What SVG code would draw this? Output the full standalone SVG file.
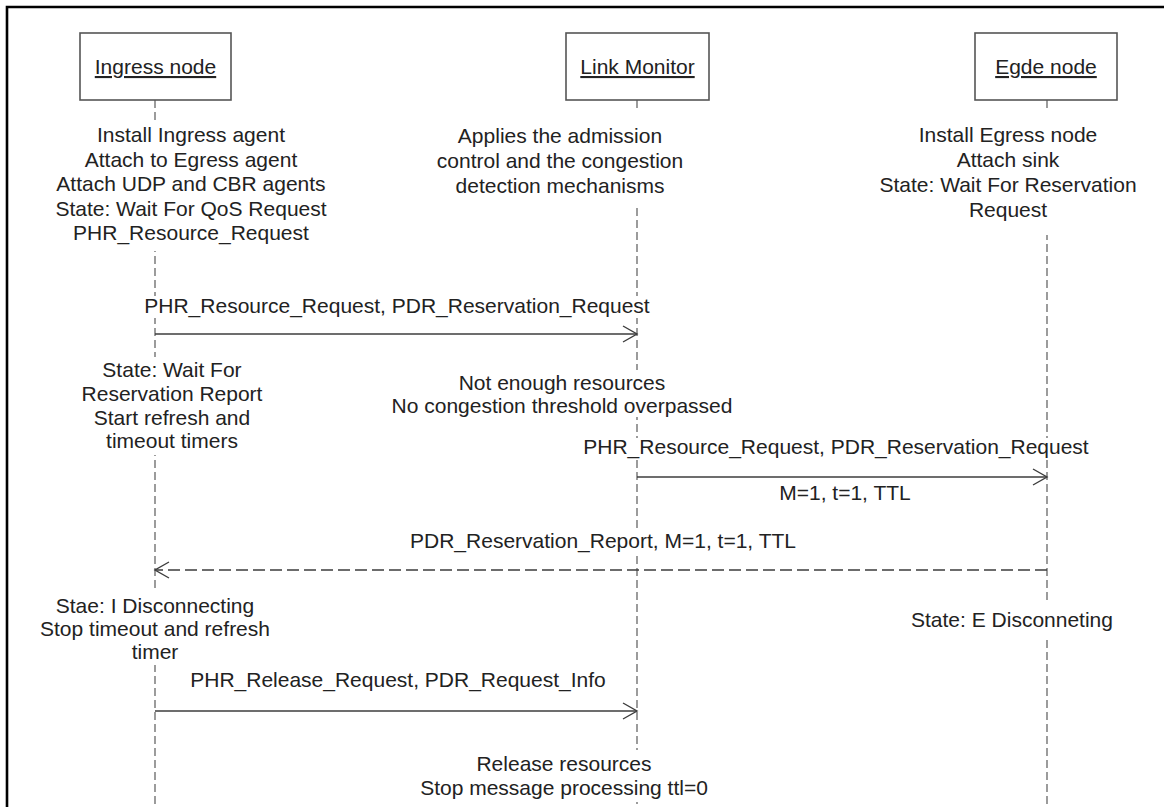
<svg xmlns="http://www.w3.org/2000/svg" width="1166" height="807" viewBox="0 0 1166 807">
  <style>
    text { font-family: "Liberation Sans", Arial, sans-serif; font-size: 21px; fill: #222; text-anchor: middle; }
    .head { text-decoration: underline; }
    .box { fill: #fff; stroke: #555; stroke-width: 1.6; }
    .life { stroke: #5a5a5a; stroke-width: 1.2; stroke-dasharray: 8 4; fill: none; }
    .msg { stroke: #3c3c3c; stroke-width: 1.4; fill: none; }
    .reply { stroke: #3c3c3c; stroke-width: 1.4; fill: none; stroke-dasharray: 12 5; }
    .tip { stroke: #3c3c3c; stroke-width: 1.4; fill: none; stroke-linejoin: miter; }
    .bg { fill: #fff; }
  </style>

  <rect width="1166" height="807" fill="#fff"/>
  <!-- outer frame -->
  <path d="M7,807 V7 H1164" fill="none" stroke="#000" stroke-width="2.6"/>

  <!-- lifelines -->
  <g id="lifelines">
    <line class="life" x1="155" y1="100" x2="155" y2="807"/>
    <line class="life" x1="637" y1="100" x2="637" y2="807"/>
    <line class="life" x1="1047" y1="100" x2="1047" y2="807"/>
  </g>

  <!-- messages -->
  <g id="connectors">
    <line class="msg" x1="155" y1="334" x2="636" y2="334"/>
    <polyline class="tip" points="623,326 637,334 623,342"/>
    <line class="msg" x1="637" y1="477" x2="1046" y2="477"/>
    <polyline class="tip" points="1033,469 1047,477 1033,485"/>
    <line class="reply" x1="1047" y1="570" x2="156" y2="570"/>
    <polyline class="tip" points="169,562 155,570 169,578"/>
    <line class="msg" x1="155" y1="711" x2="636" y2="711"/>
    <polyline class="tip" points="623,703 637,711 623,719"/>
  </g>

  <g id="ingress">
    <rect class="box" x="80" y="33" width="151" height="67"/>
    <text class="head" x="155.5" y="74">Ingress node</text>
    <rect class="bg" x="50" y="120" width="285" height="131"/>
    <text x="191" y="142">Install Ingress agent</text>
    <text x="191" y="166.5">Attach to Egress agent</text>
    <text x="191" y="191">Attach UDP and CBR agents</text>
    <text x="191" y="215.5">State: Wait For QoS Request</text>
    <text x="191" y="240">PHR_Resource_Request</text>
  </g>

  <g id="link-monitor">
    <rect class="box" x="566" y="33" width="143" height="67"/>
    <text class="head" x="637.5" y="74">Link Monitor</text>
    <rect class="bg" x="425" y="110" width="270" height="97"/>
    <text x="560" y="143">Applies the admission</text>
    <text x="560" y="168">control and the congestion</text>
    <text x="560" y="193">detection mechanisms</text>
  </g>

  <g id="egde">
    <rect class="box" x="975" y="33" width="142" height="67"/>
    <text class="head" x="1046" y="74">Egde node</text>
    <rect class="bg" x="870" y="110" width="275" height="125"/>
    <text x="1008" y="142">Install Egress node</text>
    <text x="1008" y="167">Attach sink</text>
    <text x="1008" y="192">State: Wait For Reservation</text>
    <text x="1008" y="217">Request</text>
  </g>

  <g id="msg-reservation-request">
    <rect class="bg" x="143" y="296" width="512" height="22"/>
    <text x="397" y="313">PHR_Resource_Request, PDR_Reservation_Request</text>
  </g>

  <g id="ingress-wait-report">
    <rect class="bg" x="98" y="357" width="150" height="98"/>
    <text x="172" y="377">State: Wait For</text>
    <text x="172" y="401">Reservation Report</text>
    <text x="172" y="425">Start refresh and</text>
    <text x="172" y="448">timeout timers</text>
  </g>

  <g id="monitor-check">
    <rect class="bg" x="382" y="370" width="360" height="47"/>
    <text x="562" y="390">Not enough resources</text>
    <text x="562" y="413">No congestion threshold overpassed</text>
  </g>

  <g id="msg-forward-request">
    <rect class="bg" x="582" y="438" width="512" height="20"/>
    <text x="836" y="454">PHR_Resource_Request, PDR_Reservation_Request</text>
    <text x="845" y="500">M=1, t=1, TTL</text>
  </g>

  <g id="msg-reservation-report">
    <rect class="bg" x="408" y="531" width="392" height="21"/>
    <text x="603" y="548">PDR_Reservation_Report, M=1, t=1, TTL</text>
  </g>

  <g id="ingress-disconnecting">
    <rect class="bg" x="50" y="591" width="210" height="74"/>
    <text x="155" y="613">Stae: I Disconnecting</text>
    <text x="155" y="636">Stop timeout and refresh</text>
    <text x="155" y="659">timer</text>
  </g>

  <g id="egde-disconnecting">
    <rect class="bg" x="905" y="602" width="215" height="34"/>
    <text x="1012" y="627">State: E Disconneting</text>
  </g>

  <g id="msg-release">
    <text x="398" y="687">PHR_Release_Request, PDR_Request_Info</text>
  </g>

  <g id="monitor-release">
    <rect class="bg" x="405" y="750" width="320" height="52"/>
    <text x="564" y="771">Release resources</text>
    <text x="564" y="795">Stop message processing ttl=0</text>
  </g>
</svg>
